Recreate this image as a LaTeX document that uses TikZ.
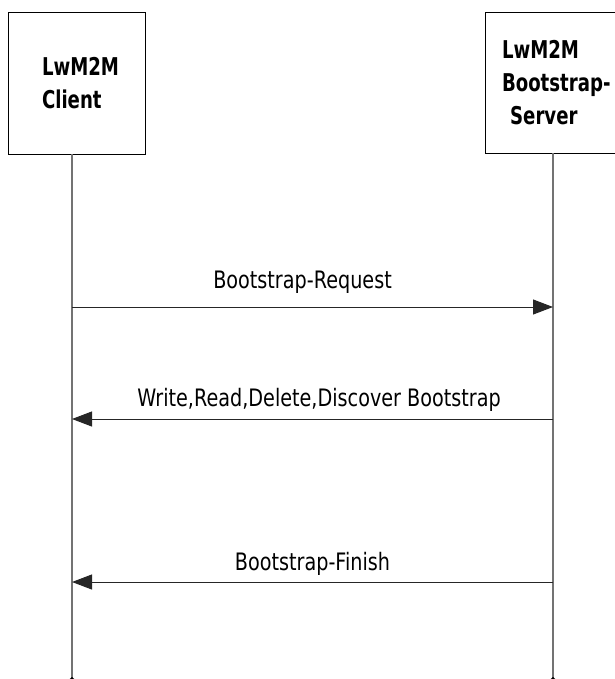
\documentclass[tikz,border=0pt]{standalone}
\usepackage{fontspec}
\setmainfont[FakeStretch=0.8]{DejaVu Sans}
\newfontfamily\entityfont[FakeStretch=0.74]{DejaVu Sans}
\usetikzlibrary{arrows.meta, positioning}
\tikzset{
  entity/.style={draw, line width=0.9pt, inner ysep=0pt, align=left,
    font=\entityfont\bfseries\fontsize{24.5}{33}\selectfont},
  lifeline/.style={draw=black!55, line width=1.4pt, -{Diamond[length=14pt,width=16pt,black]}},
  message/.style={draw=black!85, line width=1pt, -{Triangle[length=20pt,width=15pt]}},
  msglabel/.style={anchor=base, inner sep=0pt, font=\fontsize{24}{28}\selectfont},
}

\begin{document}
\begin{tikzpicture}[x=1pt, y=-1pt]
  \useasboundingbox (0,0) rectangle (614,679);
  % participants
  \node[entity, minimum width=137pt, minimum height=142pt, text width=69pt, inner xsep=34pt] (client) at (76.5,83) {LwM2M\\Client};
  \node[entity, minimum width=145pt, minimum height=141pt, text width=111pt, inner xsep=17pt] (server) at (557.5,82.5) {LwM2M\\Bootstrap-\\\ Server};
  % lifeline ends
  \coordinate (cbot) at (72,691);
  \coordinate (sbot) at (553,691);
  \draw[lifeline] (client.south -| cbot) -- (cbot);
  \draw[lifeline] (server.south -| sbot) -- (sbot);
  % message points
  \coordinate (c1) at (72,307);
  \coordinate (s1) at (553,307);
  \coordinate (c2) at (72,419);
  \coordinate (s2) at (553,419);
  \coordinate (c3) at (72,582);
  \coordinate (s3) at (553,582);
  \draw[message] (c1) -- (s1) node[msglabel, midway, xshift=-10pt, yshift=19pt] {Bootstrap-Request};
  \draw[message] (s2) -- (c2) node[msglabel, midway, xshift=6.5pt, yshift=12.5pt] {Write,Read,Delete,Discover Bootstrap};
  \draw[message] (s3) -- (c3) node[msglabel, midway, yshift=12pt] {Bootstrap-Finish};
\end{tikzpicture}
\end{document}
